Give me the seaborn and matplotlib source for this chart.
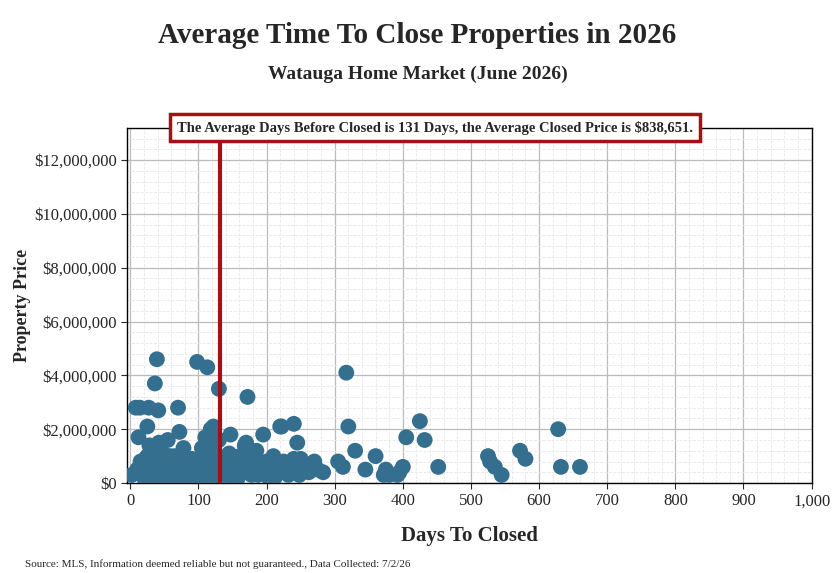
import matplotlib
matplotlib.use("Agg")
import matplotlib.pyplot as plt
import seaborn as sns
import pandas as pd
from matplotlib.ticker import FuncFormatter, MultipleLocator

sns.set_style("white")
plt.rcParams['font.family'] = ['Liberation Serif', 'DejaVu Serif']

# days to close, closed price (millions)
days = [2, 10, 15, 20, 25, 30, 35, 38, 40, 42, 45, 48, 50, 55, 60, 65, 70, 72, 75, 80,
        12, 18, 22, 28, 33, 37, 44, 52, 58, 63, 68, 78, 85, 90, 95, 100, 105, 110, 115, 118,
        120, 122, 125, 128, 130, 135, 140, 145, 150, 155, 160, 165, 170, 175, 180, 185, 190, 195, 200, 205,
        210, 215, 220, 225, 230, 235, 240, 245, 250, 255, 260, 265, 270, 275,
        8, 14, 27, 39, 41, 98, 113, 130, 172, 317, 36, 25, 70, 118, 122, 110,
        105, 147, 168, 195, 222, 240, 245, 305, 320, 330, 345, 360, 375, 380, 395, 400,
        405, 425, 432, 452, 525, 528, 535, 545, 572, 580, 628, 632, 660,
        30, 48, 62, 88, 102, 138, 158, 178, 212, 232, 262, 312, 372, 392,
        20, 45, 55, 65, 80, 92, 108, 126, 142, 152, 187, 203, 248, 283]
price = [0.3, 0.5, 0.8, 0.6, 1.0, 0.4, 1.2, 0.9, 0.7, 1.5, 0.5, 1.1, 0.8, 1.6, 0.6, 1.0, 0.4, 1.9, 0.7, 0.9,
         1.7, 0.4, 0.9, 1.4, 0.6, 0.8, 1.2, 0.3, 1.0, 0.5, 0.7, 1.3, 0.6, 0.9, 0.4, 0.8, 0.5, 1.0, 0.7, 1.8,
         0.6, 1.4, 0.9, 0.3, 1.6, 0.7, 0.5, 1.1, 0.8, 0.4, 1.0, 0.6, 1.5, 0.9, 0.5, 1.2, 0.7, 0.4, 0.8, 0.6,
         1.0, 0.5, 2.1, 0.8, 0.6, 0.4, 2.2, 1.5, 0.9, 0.7, 0.5, 0.6, 0.8, 0.5,
         2.8, 2.8, 2.8, 4.6, 2.7, 4.5, 4.3, 3.5, 3.2, 4.1, 3.7, 2.1, 2.8, 2.0, 2.1, 1.7,
         1.3, 1.8, 1.4, 1.8, 2.1, 0.9, 0.8, 0.8, 2.1, 1.2, 0.5, 1.0, 0.5, 0.3, 0.4, 0.6,
         1.7, 2.3, 1.6, 0.6, 1.0, 0.8, 0.6, 0.3, 1.2, 0.9, 2.0, 0.6, 0.6,
         0.2, 0.3, 0.2, 0.3, 0.2, 0.3, 0.2, 0.3, 0.2, 0.3, 0.4, 0.6, 0.3, 0.3,
         0.2, 0.2, 0.3, 0.2, 0.2, 0.3, 0.2, 0.2, 0.3, 0.2, 0.3, 0.2, 0.3, 0.4]
df = pd.DataFrame({"days": days, "price": [p * 1e6 for p in price]})

avg_days = 131
avg_price = 838651

fig = plt.figure(figsize=(8.35, 5.73), dpi=100)
ax = fig.add_axes([0.152, 0.157, 0.820, 0.620])

sns.scatterplot(data=df, x="days", y="price", ax=ax, s=130, color="#356f8f",
                edgecolor="none", zorder=3)

ax.set_xlim(-5, 1000)
ax.set_ylim(0, 13.2e6)
ax.xaxis.set_major_locator(MultipleLocator(100))
ax.xaxis.set_minor_locator(MultipleLocator(20))
ax.yaxis.set_major_locator(MultipleLocator(2e6))
ax.yaxis.set_minor_locator(MultipleLocator(4e5))
ax.yaxis.set_major_formatter(FuncFormatter(lambda v, p: "${:,.0f}".format(v)))
ax.xaxis.set_major_formatter(FuncFormatter(lambda v, p: "{:,.0f}".format(v)))
ax.grid(which="major", color="#bbbbbb", linewidth=0.9)
ax.grid(which="minor", color="#e8e8e8", linewidth=0.6, linestyle="--")
ax.set_axisbelow(True)
for s in ax.spines.values():
    s.set_color("black")
    s.set_linewidth(1)
ax.tick_params(axis="both", labelsize=12, length=4, direction="out", bottom=True, left=True)

ax.axvline(avg_days, color="#a50f15", linewidth=3, zorder=4, ymax=0.99)
ax.text(0.45, 1.0, "The Average Days Before Closed is 131 Days, the Average Closed Price is $838,651.",
        transform=ax.transAxes, ha="center", va="center", fontsize=10.5, fontweight="bold", zorder=6,
        bbox=dict(boxstyle="square,pad=0.45", facecolor="white", edgecolor="#a50f15", linewidth=2.5))

ax.set_xlabel("Days To Closed", fontsize=15, fontweight="bold", labelpad=12)
ax.set_ylabel("Property Price", fontsize=13, fontweight="bold", labelpad=2)

fig.text(0.5, 0.925, "Average Time To Close Properties in 2026", ha="center", fontsize=21, fontweight="bold")
fig.text(0.5, 0.862, "Watauga Home Market (June 2026)", ha="center", fontsize=14, fontweight="bold")
fig.text(0.03, 0.01, "Source: MLS, Information deemed reliable but not guaranteed., Data Collected: 7/2/26",
         fontsize=8)

plt.savefig("out.png", dpi=100)
